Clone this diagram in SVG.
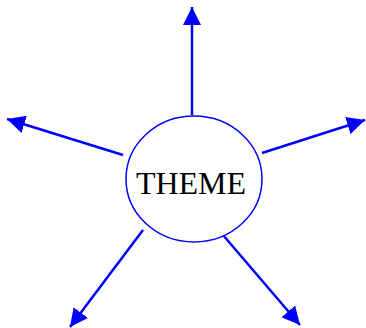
<svg xmlns="http://www.w3.org/2000/svg" width="366" height="328" viewBox="0 0 366 328">
<style>
.conn{stroke:#0000ff;stroke-width:2.5;fill:none;marker-end:url(#ah)}
.node{fill:#fff;stroke:#0000ff;stroke-width:1.5}
.lbl{font-family:"Liberation Serif",serif;font-size:32px;fill:#000;text-anchor:middle}
</style>
<defs>
<marker id="ah" markerUnits="userSpaceOnUse" markerWidth="18" markerHeight="18" refX="16" refY="8" orient="auto" viewBox="0 0 16 16">
<path d="M0,0 L16,8 L0,16 z" fill="#0000ff"/>
</marker>
</defs>
<g id="connectors">
<line class="conn" x1="192" y1="115" x2="192" y2="7"/>
<line class="conn" x1="123" y1="155" x2="7" y2="119"/>
<line class="conn" x1="262" y1="153" x2="365" y2="120"/>
<line class="conn" x1="143" y1="230" x2="70" y2="327"/>
<line class="conn" x1="223" y1="235" x2="300" y2="325"/>
</g>
<g id="theme">
<ellipse class="node" cx="194" cy="179" rx="68" ry="63"/>
<text class="lbl" x="191" y="194">THEME</text>
</g>
</svg>
